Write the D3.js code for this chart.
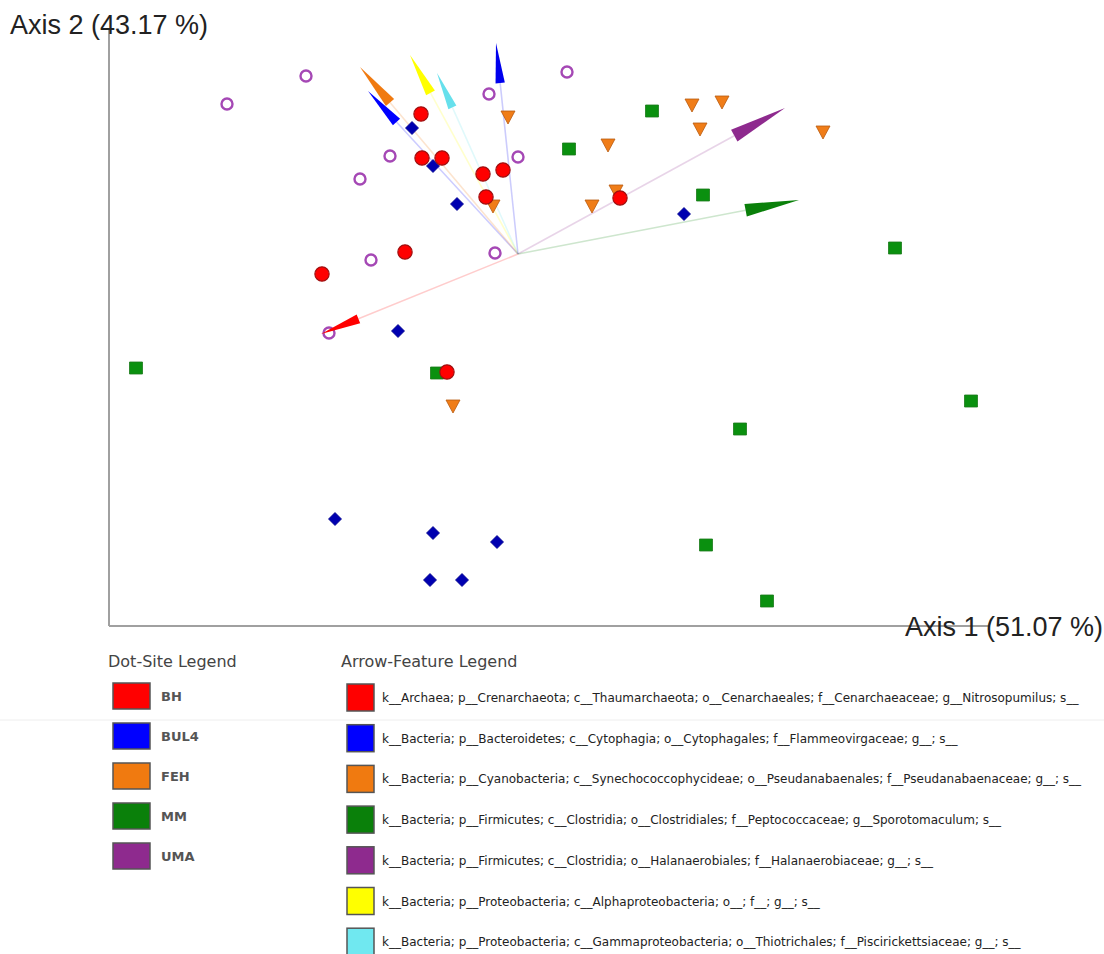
<html>

<head>
<style>
    body { margin: 0; background: #fff; }
</style>
</head>

<body>
    <svg id="container" height="954" width="1104">
        <g id="body"></g>
    </svg>
</body>
<script src="https://cdn.jsdelivr.net/npm/d3@7"></script>
<script>
    // site scores (Axis 1, Axis 2)
    let BH = [[-0.97, 1.40], [-0.96, 0.96], [-0.76, 0.96], [-0.35, 0.80], [-0.15, 0.84],
              [-0.32, 0.57], [-1.13, 0.02], [-1.96, -0.20], [-0.71, -1.18], [1.02, 0.56]]
    let BUL4 = [[-1.06, 1.26], [-0.85, 0.88], [-0.61, 0.50], [-1.20, -0.77], [1.66, 0.40],
                [-1.83, -2.65], [-0.85, -2.79], [-0.21, -2.88], [-0.88, -3.26], [-0.56, -3.26]]
    let FEH = [[-0.10, 1.37], [-0.25, 0.48], [1.74, 1.49], [2.04, 1.52], [1.82, 1.25],
               [3.05, 1.22], [0.90, 1.09], [0.98, 0.63], [0.74, 0.48], [-0.65, -1.52]]
    let MM = [[1.34, 1.43], [0.51, 1.05], [1.85, 0.59], [3.77, 0.06], [-3.82, -1.14],
              [-0.81, -1.19], [4.53, -1.47], [2.22, -1.75], [1.88, -2.91], [2.49, -3.47]]
    let UMA = [[-2.91, 1.50], [-2.12, 1.78], [0.49, 1.82], [-0.29, 1.60], [-1.28, 0.98],
               [0.00, 0.97], [-1.58, 0.75], [-1.47, -0.06], [-0.23, 0.01], [-1.89, -0.79]]

    let siteNames = ["BH", "BUL4", "FEH", "MM", "UMA"]
    let siteColors = ["#ff0000", "#0000ff", "#f07a10", "#0a800a", "#8e2a8e"]

    // feature arrows (tip position)
    let featureTips = [[-1.97, -0.80], [-1.50, 1.63], [-1.58, 1.87], [-1.08, 1.99],
                       [-0.81, 1.81], [-0.22, 2.11], [2.67, 1.46], [2.81, 0.54]]
    let featureColors = ["#ff0000", "#0000ff", "#f07a10", "#ffff00", "#66e0ec", "#0000ee", "#8e2a8e", "#0a800a"]
    let featureNames = [
        "k__Archaea; p__Crenarchaeota; c__Thaumarchaeota; o__Cenarchaeales; f__Cenarchaeaceae; g__Nitrosopumilus; s__",
        "k__Bacteria; p__Bacteroidetes; c__Cytophagia; o__Cytophagales; f__Flammeovirgaceae; g__; s__",
        "k__Bacteria; p__Cyanobacteria; c__Synechococcophycideae; o__Pseudanabaenales; f__Pseudanabaenaceae; g__; s__",
        "k__Bacteria; p__Firmicutes; c__Clostridia; o__Clostridiales; f__Peptococcaceae; g__Sporotomaculum; s__",
        "k__Bacteria; p__Firmicutes; c__Clostridia; o__Halanaerobiales; f__Halanaerobiaceae; g__; s__",
        "k__Bacteria; p__Proteobacteria; c__Alphaproteobacteria; o__; f__; g__; s__",
        "k__Bacteria; p__Proteobacteria; c__Gammaproteobacteria; o__Thiotrichales; f__Piscirickettsiaceae; g__; s__"
    ]
    let legendColors = ["#ff0000", "#0000ff", "#f07a10", "#0a800a", "#8e2a8e", "#ffff00", "#70e8f0"]

    let axisTitles = ["Axis 1 (51.07 %)", "Axis 2 (43.17 %)"]

    let body = d3.select("#body")

    // scales
    let x = d3.scaleLinear().domain([-4.09, 4.72]).range([109, 990])
    let y = d3.scaleLinear().domain([-3.72, 2.24]).range([626, 30])

    // axes lines
    body.append("line")
        .attr("x1", x(-4.09)).attr("x2", x(-4.09))
        .attr("y1", y(2.24)).attr("y2", y(-3.72))
        .attr("stroke", "#a0a0a0").attr("stroke-width", 2)
    body.append("line")
        .attr("x1", x(-4.09)).attr("x2", x(4.72))
        .attr("y1", y(-3.72)).attr("y2", y(-3.72))
        .attr("stroke", "#a0a0a0").attr("stroke-width", 2)

    body.append("text")
        .attr("x", 10).attr("y", 34)
        .attr("font-family", "Liberation Sans, Arial, sans-serif")
        .attr("font-size", 27).attr("fill", "#222")
        .text(axisTitles[1])
    body.append("text")
        .attr("x", 905).attr("y", 636)
        .attr("font-family", "Liberation Sans, Arial, sans-serif")
        .attr("font-size", 27).attr("fill", "#222")
        .text(axisTitles[0])

    // arrow shafts (behind points)
    let x0 = x(0), y0 = y(0)
    function headPoints(d) {
        let tx = x(d[0]), ty = y(d[1])
        let dx = tx - x0, dy = ty - y0
        let len = Math.sqrt(dx * dx + dy * dy)
        let ux = dx / len, uy = dy / len
        let hl = len * 0.19, hw = len * 0.022
        let bx = tx - ux * hl, by = ty - uy * hl
        return { tx: tx, ty: ty, bx: bx, by: by, px: -uy * hw, py: ux * hw }
    }

    body.selectAll(".shaft")
        .data(featureTips)
        .enter().append("line")
        .attr("class", "shaft")
        .attr("x1", x0).attr("y1", y0)
        .attr("x2", d => headPoints(d).bx)
        .attr("y2", d => headPoints(d).by)
        .attr("stroke", (d, i) => featureColors[i])
        .attr("stroke-opacity", 0.2)
        .attr("stroke-width", 1.6)

    // site points
    let shapes = {
        circle: d3.symbol().type(d3.symbolCircle).size(160)(),
        diamond: "M0,-6.5L6.5,0L0,6.5L-6.5,0Z",
        triangle: "M-7,-6L7,-6L0,7Z",
        square: "M-6.5,-6L6.5,-6L6.5,6L-6.5,6Z",
        ring: d3.symbol().type(d3.symbolCircle).size(95)()
    }

    function drawSites(data, path, fill, stroke, sw) {
        body.append("g").selectAll("path")
            .data(data)
            .enter().append("path")
            .attr("d", path)
            .attr("transform", d => "translate(" + x(d[0]) + "," + y(d[1]) + ")")
            .attr("fill", fill)
            .attr("stroke", stroke)
            .attr("stroke-width", sw)
    }

    drawSites(MM, shapes.square, "#0a900f", "#1a7a1a", 0.8)
    drawSites(FEH, shapes.triangle, "#f07d18", "#b85a10", 0.8)
    drawSites(BUL4, shapes.diamond, "#0000b0", "#00008a", 0.8)
    drawSites(BH, shapes.circle, "#ff0000", "#a01010", 1.2)
    drawSites(UMA, shapes.ring, "none", "#a548b5", 2.4)

    // arrow heads
    body.selectAll(".head")
        .data(featureTips)
        .enter().append("path")
        .attr("class", "head")
        .attr("d", d => {
            let h = headPoints(d)
            return "M" + h.tx + "," + h.ty +
                   "L" + (h.bx + h.px) + "," + (h.by + h.py) +
                   "L" + (h.bx - h.px) + "," + (h.by - h.py) + "Z"
        })
        .attr("fill", (d, i) => featureColors[i])

    // faint seam line across the page
    body.append("line")
        .attr("x1", 0).attr("x2", 1104)
        .attr("y1", 720).attr("y2", 720)
        .attr("stroke", "#eeeeee").attr("stroke-width", 1)

    // site legend
    let legendFont = "DejaVu Sans, Verdana, sans-serif"
    body.append("text")
        .attr("x", 108).attr("y", 667)
        .attr("font-family", legendFont)
        .attr("font-size", 16).attr("fill", "#444")
        .text("Dot-Site Legend")

    let siteLegend = body.append("g").selectAll("g")
        .data(siteNames)
        .enter().append("g")
        .attr("transform", (d, i) => "translate(113," + (683 + i * 40) + ")")
    siteLegend.append("rect")
        .attr("width", 37).attr("height", 26)
        .attr("fill", (d, i) => siteColors[i])
        .attr("stroke", "#555").attr("stroke-width", 1.5)
    siteLegend.append("text")
        .attr("x", 48).attr("y", 18)
        .attr("font-family", legendFont)
        .attr("font-size", 13).attr("font-weight", "bold")
        .attr("fill", "#555")
        .text(d => d)

    // feature legend
    body.append("text")
        .attr("x", 341).attr("y", 667)
        .attr("font-family", legendFont)
        .attr("font-size", 16).attr("fill", "#444")
        .text("Arrow-Feature Legend")

    let featLegend = body.append("g").selectAll("g")
        .data(featureNames)
        .enter().append("g")
        .attr("transform", (d, i) => "translate(347," + (684 + i * 40.7) + ")")
    featLegend.append("rect")
        .attr("width", 27).attr("height", 27)
        .attr("fill", (d, i) => legendColors[i])
        .attr("stroke", "#555").attr("stroke-width", 1.5)
    featLegend.append("text")
        .attr("x", 35).attr("y", 18)
        .attr("font-family", legendFont)
        .attr("font-size", 12).attr("fill", "#222")
        .text(d => d)
</script>

</html>
